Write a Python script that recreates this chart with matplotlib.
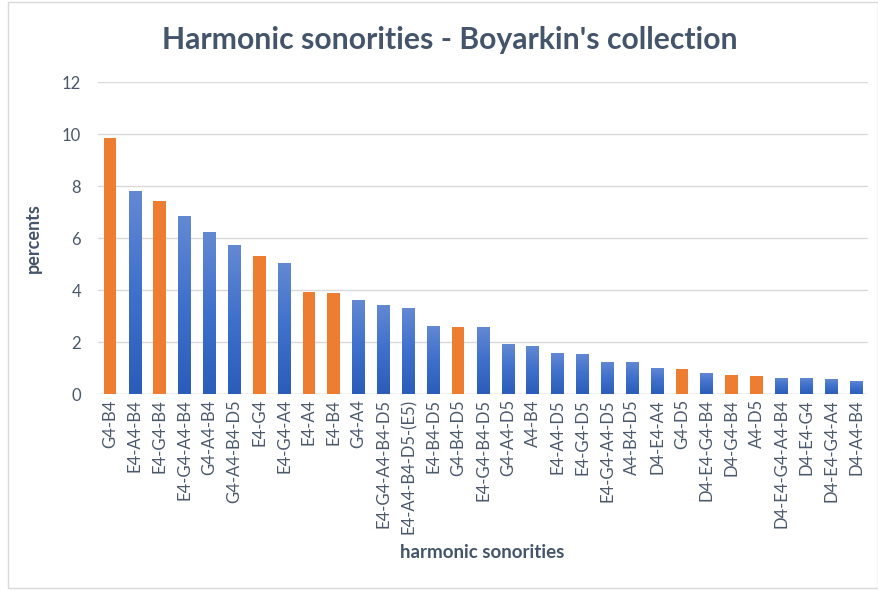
import numpy as np
import matplotlib
matplotlib.use("Agg")
import matplotlib.pyplot as plt
from matplotlib.colors import LinearSegmentedColormap
from matplotlib.patches import Rectangle

plt.rcParams['font.family'] = ['Lato', 'DejaVu Sans']

sonorities = ["G4-B4", "E4-A4-B4", "E4-G4-B4", "E4-G4-A4-B4", "G4-A4-B4",
              "G4-A4-B4-D5", "E4-G4", "E4-G4-A4", "E4-A4", "E4-B4", "G4-A4",
              "E4-G4-A4-B4-D5", "E4-A4-B4-D5-(E5)", "E4-B4-D5", "G4-B4-D5",
              "E4-G4-B4-D5", "G4-A4-D5", "A4-B4", "E4-A4-D5", "E4-G4-D5",
              "E4-G4-A4-D5", "A4-B4-D5", "D4-E4-A4", "G4-D5", "D4-E4-G4-B4",
              "D4-G4-B4", "A4-D5", "D4-E4-G4-A4-B4", "D4-E4-G4", "D4-E4-G4-A4",
              "D4-A4-B4"]
percents = [9.83, 7.81, 7.42, 6.85, 6.24, 5.72, 5.32, 5.05, 3.95, 3.90, 3.62,
            3.45, 3.32, 2.64, 2.58, 2.58, 1.92, 1.86, 1.58, 1.54, 1.23, 1.23,
            1.02, 0.96, 0.82, 0.74, 0.69, 0.64, 0.64, 0.58, 0.50]
# sonorities drawn in orange
highlighted = ["G4-B4", "E4-G4-B4", "E4-G4", "E4-A4", "E4-B4", "G4-B4-D5",
               "G4-D5", "D4-G4-B4", "A4-D5"]

text_col = "#44546A"
tick_col = "#4B586C"
orange = "#ED7D31"
blue_grad = LinearSegmentedColormap.from_list("bg", ["#2C5CB9", "#3E70CC", "#6489D3"])

fig = plt.figure(figsize=(8.79, 5.9), dpi=100)
ax = fig.add_axes([0.111, 0.3317, 0.877, 0.5293])

x = np.arange(len(sonorities))
w = 0.51
bars = ax.bar(x, percents, width=w, color=orange, zorder=2)
grad = np.linspace(0, 1, 256).reshape(-1, 1)
for name, b in zip(sonorities, bars):
    if name in highlighted:
        continue
    b.set_facecolor("none")
    bx, by = b.get_x(), b.get_y()
    bw, bh = b.get_width(), b.get_height()
    im = ax.imshow(grad, cmap=blue_grad, origin="lower", aspect="auto",
                   extent=[bx, bx + bw, by, by + bh], zorder=2)
    im.set_clip_path(b)

ax.set_xlim(-0.5, len(sonorities) - 0.5)
ax.set_ylim(0, 12)
ax.set_yticks(range(0, 13, 2))
ax.grid(axis="y", color="#D9D9D9", linewidth=1, zorder=0)
ax.set_axisbelow(True)
for s in ax.spines.values():
    s.set_visible(False)
ax.axhline(0, color="#D9D9D9", linewidth=1, zorder=1)

ax.set_xticks(x)
ax.set_xticklabels(sonorities, rotation=90, fontsize=12, color=tick_col)
ax.tick_params(axis="both", length=0, labelsize=12, colors=tick_col)
ax.tick_params(axis="y", pad=12)

ax.set_ylabel("percents", fontsize=13, fontweight="bold", color=text_col, labelpad=14)
fig.text(0.548, 0.064, "harmonic sonorities", fontsize=13.5, fontweight="bold",
         color=text_col, ha="center", va="center")
fig.text(0.512, 0.933, "Harmonic sonorities - Boyarkin's collection", fontsize=21.7,
         fontweight="bold", color=text_col, ha="center", va="center")

fig.patches.append(Rectangle((0.009, 0.003), 0.99, 0.994, transform=fig.transFigure,
                             fill=False, edgecolor="#D9D9D9", linewidth=1))

fig.savefig("out.png", dpi=100)
